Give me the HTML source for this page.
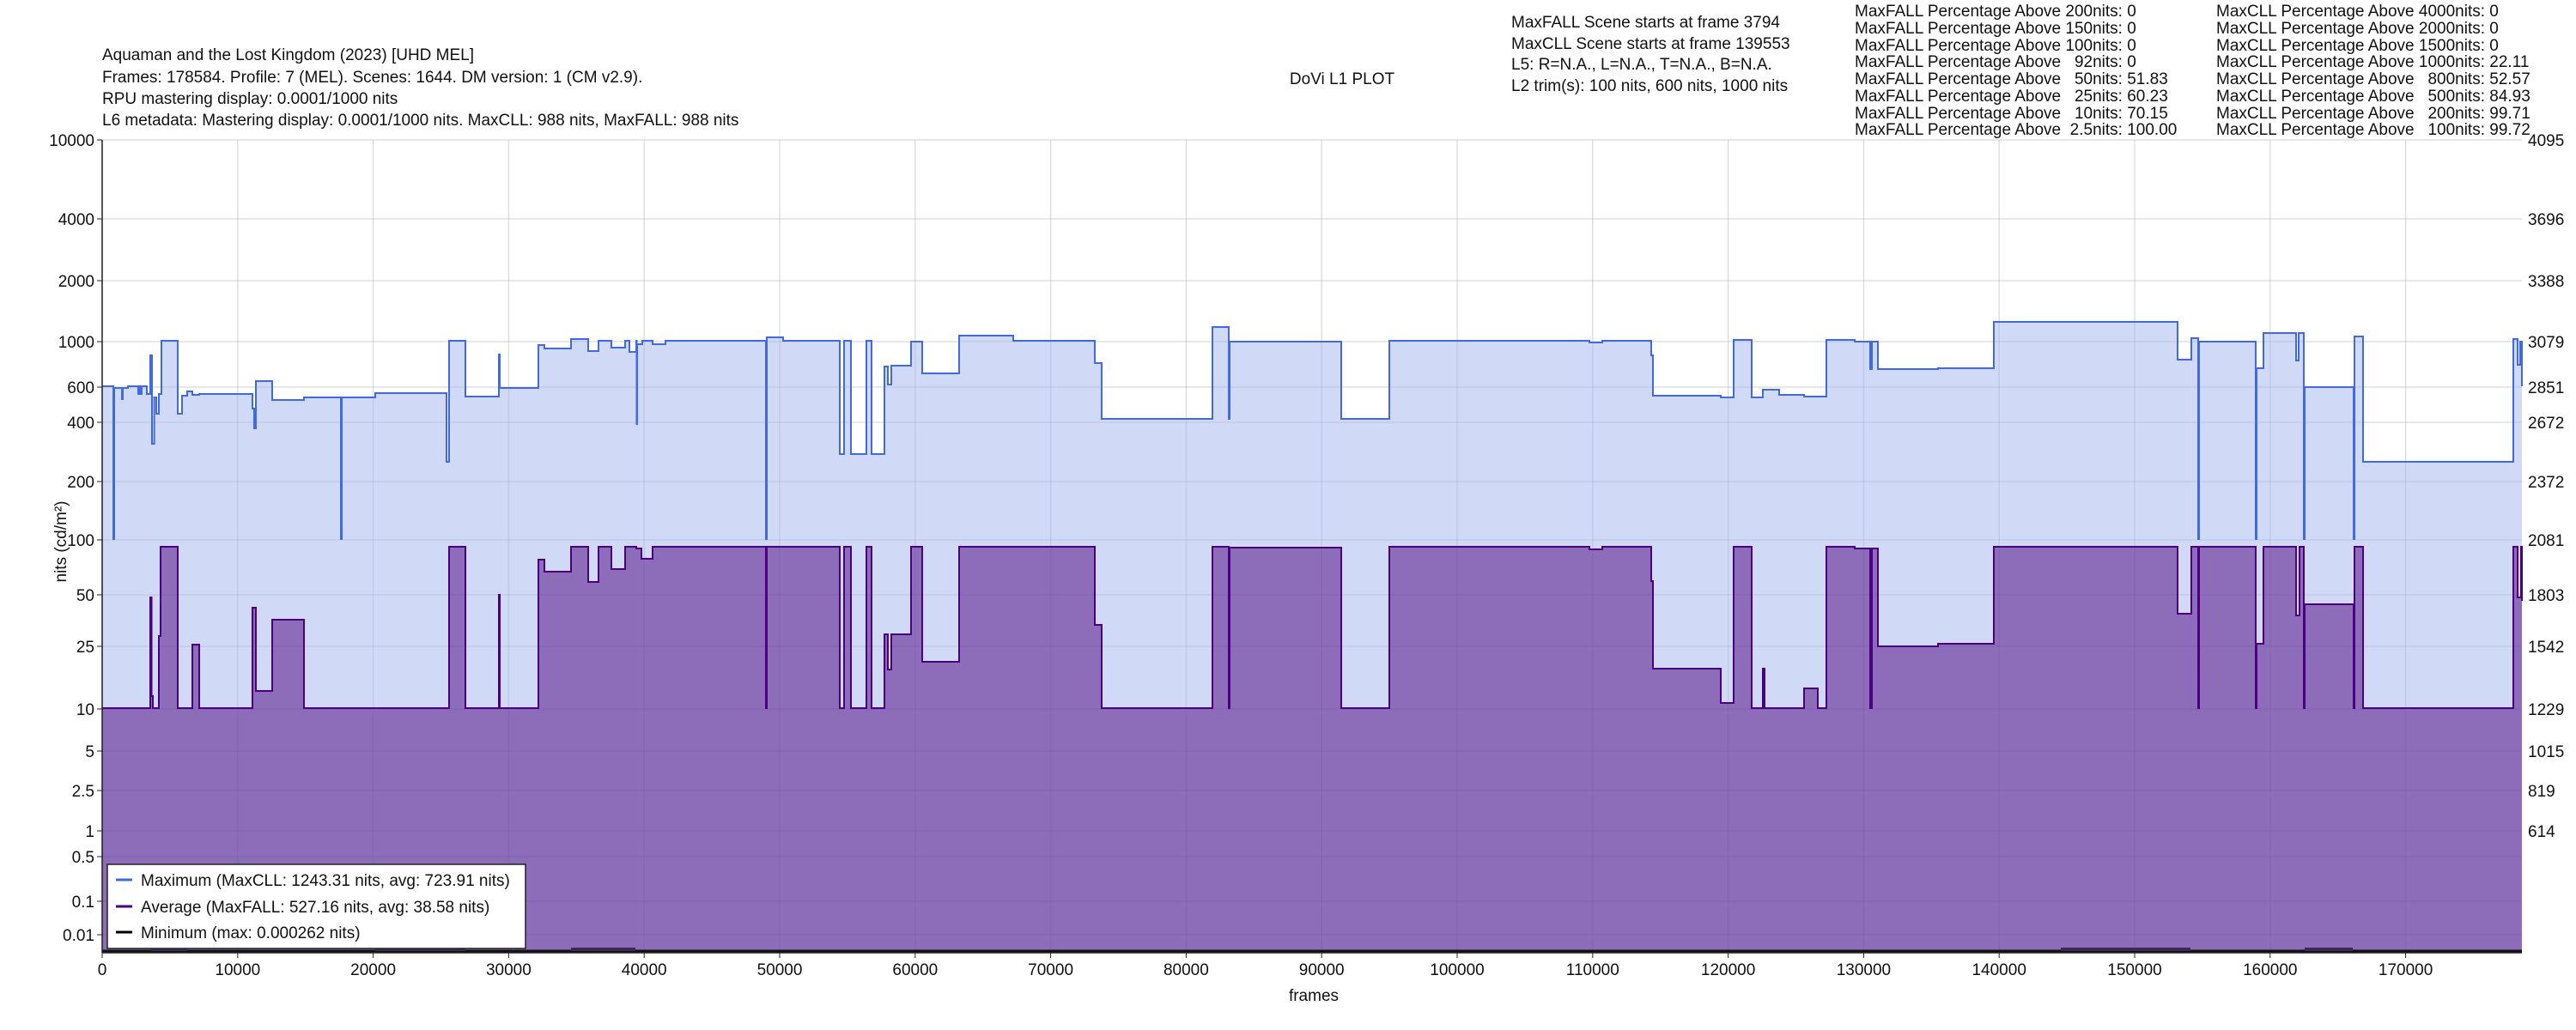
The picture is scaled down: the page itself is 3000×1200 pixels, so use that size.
<!DOCTYPE html>
<html><head><meta charset="utf-8"><style>
html,body{margin:0;padding:0;background:#fff;}
svg{display:block;font-family:"Liberation Sans",Arial,sans-serif;}
</style></head><body>
<svg id="s" width="3000" height="1200" viewBox="0 0 3000 1200" xmlns="http://www.w3.org/2000/svg">
<rect width="3000" height="1200" fill="#fff"/>
<g font-size="19" fill="#111">
<text x="119" y="70">Aquaman and the Lost Kingdom (2023) [UHD MEL]</text>
<text x="119" y="96">Frames: 178584. Profile: 7 (MEL). Scenes: 1644. DM version: 1 (CM v2.9).</text>
<text x="119" y="121">RPU mastering display: 0.0001/1000 nits</text>
<text x="119" y="146">L6 metadata: Mastering display: 0.0001/1000 nits. MaxCLL: 988 nits, MaxFALL: 988 nits</text>
<text x="1563" y="98" text-anchor="middle">DoVi L1 PLOT</text>
<text x="1760" y="32">MaxFALL Scene starts at frame 3794</text>
<text x="1760" y="57">MaxCLL Scene starts at frame 139553</text>
<text x="1760" y="81">L5: R=N.A., L=N.A., T=N.A., B=N.A.</text>
<text x="1760" y="106">L2 trim(s): 100 nits, 600 nits, 1000 nits</text>
</g>
<g font-size="19" fill="#111">
<text x="2160" y="19">MaxFALL Percentage Above 200nits: 0</text>
<text x="2160" y="39">MaxFALL Percentage Above 150nits: 0</text>
<text x="2160" y="59">MaxFALL Percentage Above 100nits: 0</text>
<text x="2160" y="78">MaxFALL Percentage Above &#160;&#160;92nits: 0</text>
<text x="2160" y="98">MaxFALL Percentage Above &#160;&#160;50nits: 51.83</text>
<text x="2160" y="118">MaxFALL Percentage Above &#160;&#160;25nits: 60.23</text>
<text x="2160" y="138">MaxFALL Percentage Above &#160;&#160;10nits: 70.15</text>
<text x="2160" y="157">MaxFALL Percentage Above &#160;2.5nits: 100.00</text>
<text x="2581" y="19">MaxCLL Percentage Above 4000nits: 0</text>
<text x="2581" y="39">MaxCLL Percentage Above 2000nits: 0</text>
<text x="2581" y="59">MaxCLL Percentage Above 1500nits: 0</text>
<text x="2581" y="78">MaxCLL Percentage Above 1000nits: 22.11</text>
<text x="2581" y="98">MaxCLL Percentage Above &#160;&#160;800nits: 52.57</text>
<text x="2581" y="118">MaxCLL Percentage Above &#160;&#160;500nits: 84.93</text>
<text x="2581" y="138">MaxCLL Percentage Above &#160;&#160;200nits: 99.71</text>
<text x="2581" y="157">MaxCLL Percentage Above &#160;&#160;100nits: 99.72</text>
</g>
<g id="gridv" stroke="#e8e8e8" stroke-width="1"></g>
<g id="gridh" stroke="#e8e8e8" stroke-width="1"></g>
<path id="maxf" fill="#d0d9f5" stroke="none"/>
<path id="avgf" fill="#8d6dba" stroke="none"/>
<g id="grid2" stroke="rgba(60,50,120,0.09)" stroke-width="1.5"></g>
<path id="maxl" fill="none" stroke="#4169e1" stroke-width="2"/>
<path id="avgl" fill="none" stroke="#4b0082" stroke-width="2"/>
<path d="M119 1108 H2937" stroke="#111" stroke-width="3"/>
<path d="M176 1106 H218 M437 1106 H542 M665 1106 H740 M2400 1106 H2551 M2684 1106 H2740" stroke="#3a2a55" stroke-width="4"/>
<line x1="119" y1="163" x2="119" y2="1110" stroke="#222" stroke-width="1.5"/>
<line x1="119" y1="1110" x2="2937" y2="1110" stroke="#222" stroke-width="1.5"/>
<g id="ylab" font-size="19" fill="#111"></g>
<g id="xlab" font-size="19" fill="#111" text-anchor="middle"></g>
<text x="1530" y="1166" font-size="19" text-anchor="middle" fill="#111">frames</text>
<text transform="translate(77,631) rotate(-90)" font-size="19" text-anchor="middle" fill="#111">nits (cd/m²)</text>
<rect x="125" y="1007" width="487" height="98" fill="#fff" stroke="#222" stroke-width="1.5"/>
<line x1="135" y1="1025" x2="154" y2="1025" stroke="#4169e1" stroke-width="3"/>
<line x1="135" y1="1056" x2="154" y2="1056" stroke="#4b0082" stroke-width="3"/>
<line x1="135" y1="1086" x2="154" y2="1086" stroke="#000" stroke-width="3"/>
<g font-size="19" fill="#111">
<text x="164" y="1032">Maximum (MaxCLL: 1243.31 nits, avg: 723.91 nits)</text>
<text x="164" y="1063">Average (MaxFALL: 527.16 nits, avg: 38.58 nits)</text>
<text x="164" y="1093">Minimum (max: 0.000262 nits)</text>
</g>
</svg>
<script>
var NS="http://www.w3.org/2000/svg";
function el(p,t,a,txt){var e=document.createElementNS(NS,t);for(var k in a)e.setAttribute(k,a[k]);if(txt!==undefined)e.textContent=txt;document.getElementById(p).appendChild(e);}
var L=119,R=2937,T=163,B=1110;
for(var i=0;i<=17;i++){var x=L+i*157.8;el("gridv","line",{x1:x,y1:T,x2:x,y2:B});el("grid2","line",{x1:x,y1:T,x2:x,y2:B});
 el("gridv","line",{x1:x,y1:B,x2:x,y2:B+6,stroke:"#222"});el("xlab","text",{x:x,y:1136},String(i*10000));}
var yl=[["10000",163],["4000",255],["2000",327],["1000",398],["600",451],["400",492],["200",561],["100",629],["50",693],["25",753],["10",826],["5",875],["2.5",921],["1",968],["0.5",998],["0.1",1050],["0.01",1089]];
yl.forEach(function(a){el("gridh","line",{x1:L,y1:a[1],x2:R,y2:a[1]});el("grid2","line",{x1:L,y1:a[1],x2:R,y2:a[1]});
 el("gridh","line",{x1:L-6,y1:a[1],x2:L,y2:a[1],stroke:"#222"});el("ylab","text",{x:L-9,y:a[1]+7,"text-anchor":"end"},a[0]);});
var rl=[["4095",163],["3696",255],["3388",327],["3079",398],["2851",451],["2672",492],["2372",561],["2081",629],["1803",693],["1542",753],["1229",826],["1015",875],["819",921],["614",968]];
rl.forEach(function(a){el("ylab","text",{x:2944,y:a[1]+7},a[0]);});
var mx=[[119,450],[132,628],[133,452],[142,465],[143,452],[149,450],[161,459],[162,450],[164,459],[165,450],[171,459],[175,414],[177,517],[179.6,463],[182,482],[185,459],[188,397],[207,482],[212,461],[218,456],[224,460],[232,459],[294,476],[296,499],[298,444],[317,466],[354,463],[397,628],[398,463],[437,458],[520,538],[523,397],[542,462],[581,413],[582,452],[627,402],[634,406],[665,395],[685,409],[697,397],[712,405],[728,397],[733,410],[741,397],[741.5,494],[742,401],[748,397],[760,401],[775,397],[892,628],[893,393],[912,397],[978,529],[983,397],[991,529],[1009,397],[1015,529],[1030,427],[1034,448],[1038,426],[1061,398],[1074,435],[1117,391],[1180,397],[1275,423],[1283,488],[1412,381],[1431,488],[1432,398],[1562,488],[1618,397],[1851,399],[1866,397],[1923,414],[1925,461],[2004,463],[2019,396],[2040,463],[2053,454],[2072,460],[2101,462],[2127,396],[2160,398],[2178,430],[2180,398],[2187,430],[2257,429],[2322,375],[2536,419],[2552,394],[2560,628],[2561,398],[2627,628],[2628,429],[2636,388],[2674,420],[2677,388],[2683,628],[2684,451],[2741,628],[2742,392],[2752,538],[2927,395],[2932,425],[2935,398],[2937,450]];
var av=[[119,825],[175,696],[176.5,811],[178,825],[185,741],[187,637],[207,825],[224,751],[232,825],[294,708],[298,805],[317,722],[354,825],[523,637],[542,825],[581,693],[582,825],[627,652],[634,666],[665,637],[685,678],[697,637],[712,663],[728,637],[741,639],[747,651],[760,637],[892,825],[893,637],[978,825],[983,637],[991,825],[1009,637],[1015,825],[1030,739],[1034,780],[1038,739],[1061,637],[1074,771],[1117,637],[1275,728],[1283,825],[1412,637],[1431,825],[1432,638],[1562,825],[1618,637],[1851,640],[1866,637],[1923,677],[1925,779],[2004,819],[2019,637],[2040,825],[2053,779],[2055,825],[2101,802],[2117,825],[2127,637],[2160,639],[2178,825],[2180,639],[2187,753],[2257,750],[2322,637],[2536,715],[2552,637],[2560,825],[2561,637],[2627,825],[2628,750],[2636,637],[2674,717],[2678,637],[2683,825],[2684,704],[2741,825],[2742,637],[2752,825],[2927,637],[2932,696],[2936,637],[2937,700]];
function step(a){var d="M"+a[0][0]+" "+a[0][1];for(var i=1;i<a.length;i++){d+=" H"+a[i][0]+" V"+a[i][1];}d+=" H"+R;return d;}
var m=step(mx),a=step(av);
document.getElementById("maxl").setAttribute("d",m);
document.getElementById("avgl").setAttribute("d",a);
document.getElementById("maxf").setAttribute("d",m+" V"+B+" H"+L+" Z");
document.getElementById("avgf").setAttribute("d",a+" V"+B+" H"+L+" Z");
</script>
</body></html>
